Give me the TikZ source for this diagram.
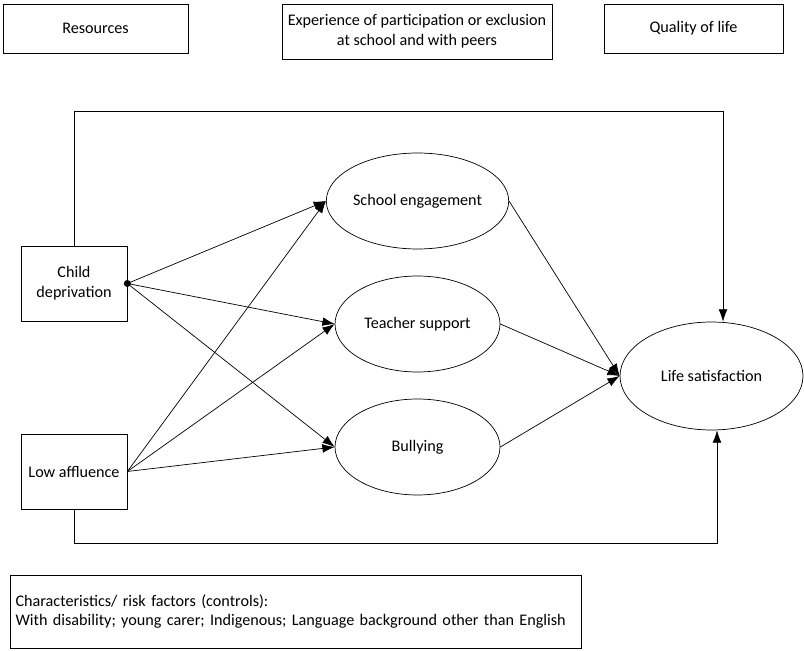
\documentclass[tikz,border=0pt]{standalone}
\usepackage{fontspec}
\setmainfont{Carlito}
\usepackage{tikz}
\usetikzlibrary{positioning,arrows.meta,shapes.geometric}
\tikzset{
    header box/.style={rectangle, draw, thin, minimum height=0.98cm, align=center, inner sep=2pt},
    factor box/.style={rectangle, draw, thin, minimum width=2.12cm, minimum height=1.5cm, align=center, inner sep=2pt},
    mediator/.style={ellipse, draw, thin, minimum width=3.3cm, minimum height=1.92cm, inner sep=0pt},
    outcome/.style={ellipse, draw, thin, minimum width=3.66cm, minimum height=2.16cm, inner sep=0pt},
    path arrow/.style={-{Latex[length=7pt,width=5pt]}, thin},
    split dot/.style={circle, fill, inner sep=0pt, minimum size=4pt}
}
\begin{document}
\begin{tikzpicture}[x=0.02cm, y=-0.02cm, font=\fontsize{9.2}{11.2}\selectfont]
\useasboundingbox (0,0) rectangle (804,651);
% Column headings
\node[header box, minimum width=3.7cm] (resources) at (95.5,28.5) {Resources};
\node[header box, minimum width=5.4cm, minimum height=1.1cm] (experience) at (417,31.5) {Experience of participation or exclusion\\at school and with peers};
\node[header box, minimum width=3.58cm] (quality) at (693.5,28.5) {Quality of life};

% Resources
\node[factor box] (deprivation) at (74,283.5) {Child\\deprivation};
\node[factor box] (affluence) at (74,471.5) {Low affluence};
\node[split dot] (split) at (deprivation.east) {};

% Experiences
\node[mediator] (engagement) at (417.5,201) {School engagement};
\node[mediator] (teacher) at (417.5,324) {Teacher support};
\node[mediator] (bullying) at (417.5,447) {Bullying};

% Outcome
\node[outcome] (life) at (711.5,376) {Life satisfaction};

% Controls
\node[rectangle, draw, thin, minimum width=11.42cm, minimum height=1.46cm, align=left, text width=11.2cm, inner sep=2pt] (controls) at (295.5,611.5) {Characteristics/ risk factors (controls):\\With disability; young carer; Indigenous; Language background other than English};

% Arrows from resources
\draw[path arrow] (split.center) -- (engagement.west);
\draw[path arrow] (split.center) -- (teacher.west);
\draw[path arrow] (split.center) -- (bullying.west);
\draw[path arrow] (affluence.east) -- (engagement.west);
\draw[path arrow] (affluence.east) -- (teacher.west);
\draw[path arrow] (affluence.east) -- (bullying.west);

% Arrows to life satisfaction
\draw[path arrow] (engagement.east) -- (life.west);
\draw[path arrow] (teacher.east) -- (life.west);
\draw[path arrow] (bullying.east) -- (life.west);

% Direct paths
\coordinate (top left) at (74,111);
\coordinate (top right) at (723,111);
\coordinate (bottom left) at (74,543);
\coordinate (bottom right) at (717,543);
\draw[path arrow] (deprivation.north) -- (top left) -- (top right) -- (top right |- life.north);
\draw[path arrow] (affluence.south) -- (bottom left) -- (bottom right) -- (bottom right |- life.south);
\end{tikzpicture}
\end{document}
